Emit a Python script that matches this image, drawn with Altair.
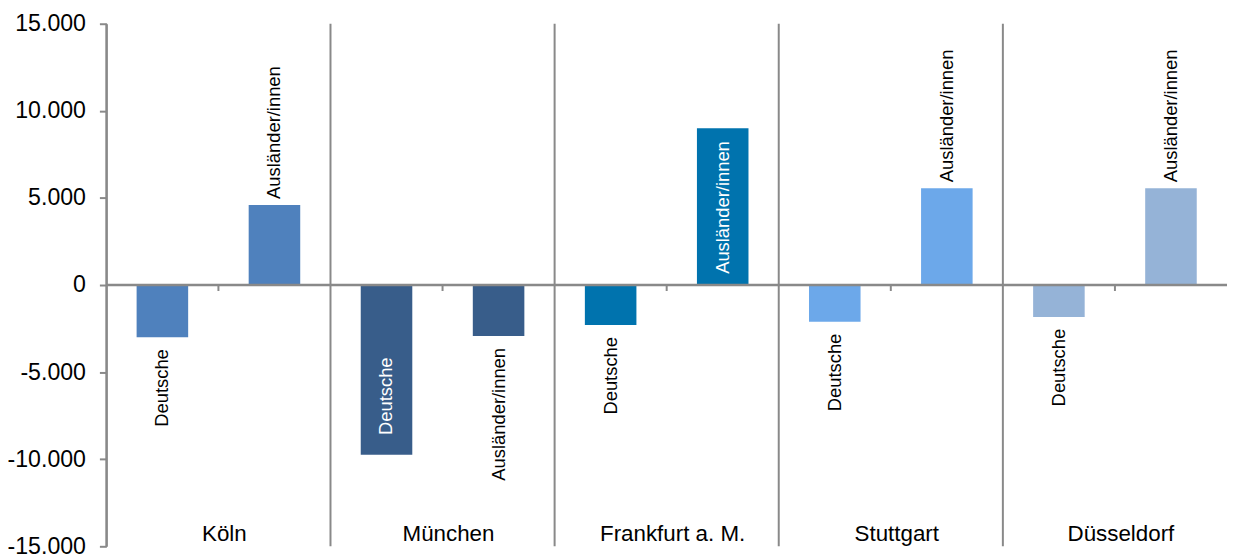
import altair as alt
import pandas as pd

cities = ["Köln", "München", "Frankfurt a. M.", "Stuttgart", "Düsseldorf"]
groups = ["Deutsche", "Ausländer/innen"]
deutsche = [-3000, -9750, -2300, -2110, -1830]
auslaender = [4600, -2930, 9000, 5560, 5560]
colors = ["#4F81BD", "#385D8A", "#0073AE", "#6CA8EA", "#95B3D7"]
y_ticks = [-15000, -10000, -5000, 0, 5000, 10000, 15000]

rows = []
for c, d, a in zip(cities, deutsche, auslaender):
    rows.append({"city": c, "group": groups[0], "value": d})
    rows.append({"city": c, "group": groups[1], "value": a})
df = pd.DataFrame(rows)
cities_df = pd.DataFrame({"city": cities})
zero_df = pd.DataFrame({"value": [0]})

W, H = 1128, 526
FONT = "Liberation Sans"
GRAY = "#898989"

city_scale = alt.Scale(domain=cities, paddingInner=0, paddingOuter=0)
group_scale = alt.Scale(domain=groups, paddingInner=0.54, paddingOuter=0.27)
y_scale = alt.Scale(domain=[-15000, 15000], nice=False, zero=False)


def xc(band=0.5):
    return alt.X("city:N", sort=cities, scale=city_scale, axis=None, bandPosition=band)


xo = alt.XOffset("group:N", sort=groups, scale=group_scale)
y_axis = alt.Axis(
    values=y_ticks,
    labelExpr="(datum.value < 0 ? '-' : '') + replace(format(abs(datum.value), ','), ',', '.')",
    grid=False, domainColor=GRAY, domainWidth=2, tickColor=GRAY, tickWidth=2,
    tickSize=7, labelPadding=14, labelFont=FONT, labelFontSize=23.3,
    labelColor="black", title=None,
)


def yv():
    return alt.Y("value:Q", scale=y_scale, axis=y_axis, title=None)


separators = alt.Chart(cities_df).mark_rule(color=GRAY, strokeWidth=2).encode(
    x=xc(0)
)

bars = alt.Chart(df).mark_bar().encode(
    x=xc(),
    xOffset=xo,
    y=yv(),
    color=alt.Color("city:N", scale=alt.Scale(domain=cities, range=colors), legend=None),
)

zero_line = alt.Chart(zero_df).mark_rule(color=GRAY, strokeWidth=2.5).encode(
    y=yv()
)

zero_ticks = (
    alt.Chart(cities_df)
    .transform_calculate(value="0")
    .mark_rule(color=GRAY, strokeWidth=2, y2Offset=6)
    .encode(x=xc(0.5), y=yv(), y2="value:Q")
)

lab = alt.Chart(df).transform_calculate(inside="abs(datum.value) > 8000")


# angle 270: dx moves the text along its reading direction (screen up for positive dx)
def label_layer(flt, align, dx, color):
    return lab.transform_filter(flt).mark_text(
        angle=270, align=align, baseline="middle", dx=dx, font=FONT,
        fontSize=18.5, color=color,
    ).encode(
        x=xc(),
        xOffset=xo,
        y=yv(),
        text="group:N",
    )


lab_pos_out = label_layer("!datum.inside && datum.value > 0", "left", 6, "black")
lab_neg_out = label_layer("!datum.inside && datum.value < 0", "right", -12, "black")
lab_pos_in = label_layer("datum.inside && datum.value > 0", "right", -13, "white")
lab_neg_in = label_layer("datum.inside && datum.value < 0", "left", 20, "white")

city_labels = (
    alt.Chart(cities_df)
    .transform_calculate(value="-15000")
    .mark_text(font=FONT, fontSize=22.5, baseline="alphabetic", dy=-5, dx=6, color="black")
    .encode(x=xc(), y=yv(), text="city:N")
)

chart = alt.layer(
    separators, bars, zero_line, zero_ticks,
    lab_pos_out, lab_neg_out, lab_pos_in, lab_neg_in, city_labels,
).properties(
    width=W, height=H,
    autosize=alt.AutoSizeParams(type="none"),
    padding={"left": 99, "top": 14, "right": 0, "bottom": 20},
    background="white",
).configure_view(stroke=None)

chart.save("out.html", embed_options={"renderer": "svg", "actions": False})
